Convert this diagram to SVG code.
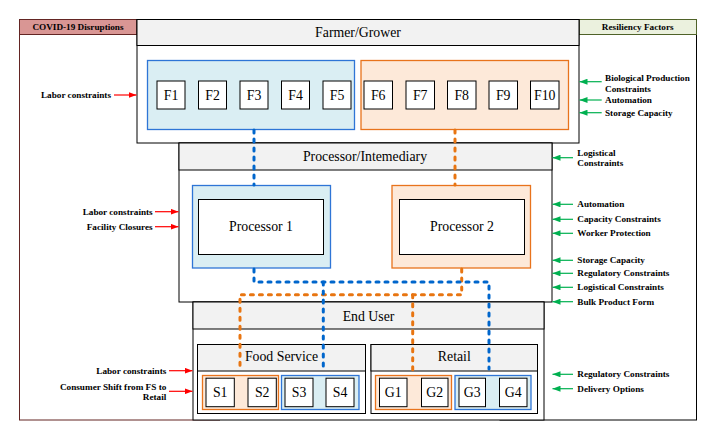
<svg xmlns="http://www.w3.org/2000/svg" width="719" height="439" viewBox="0 0 719 439">
<style>
  .box{fill:#FFFFFF;stroke:#000000;stroke-width:1}
  .hdr{fill:#F2F2F2;stroke:#000000;stroke-width:1}
  .bgrp{fill:#DAEEF3;stroke:#2E75D6;stroke-width:1.3}
  .ogrp{fill:#FDE9D9;stroke:#E8731C;stroke-width:1.3}
  .t{font-family:"Liberation Serif","Times New Roman",serif;font-size:13.8px;fill:#000000;text-anchor:middle}
  .lb{font-family:"Liberation Serif","Times New Roman",serif;font-size:9.2px;font-weight:bold;fill:#000000}
  .lr{text-anchor:end}
  .hd{text-anchor:middle}
  .red{stroke:#FF0000;stroke-width:1.2;fill:none;marker-end:url(#ar)}
  .grn{stroke:#00B050;stroke-width:1.2;fill:none;marker-end:url(#ag)}
  .cb{stroke:#0066CC;stroke-width:3;fill:none;stroke-linecap:round;stroke-linejoin:round;stroke-dasharray:3 6}
  .co{stroke:#E87511;stroke-width:3;fill:none;stroke-linecap:round;stroke-linejoin:round;stroke-dasharray:3 6}
</style>
<defs>
  <marker id="ar" markerUnits="userSpaceOnUse" markerWidth="9" markerHeight="6" refX="8" refY="3" orient="auto">
    <path d="M0,0 L8,3 L0,6 z" fill="#FF0000"/>
  </marker>
  <marker id="ag" markerUnits="userSpaceOnUse" markerWidth="9" markerHeight="6" refX="8" refY="3" orient="auto">
    <path d="M0,0 L8,3 L0,6 z" fill="#00B050"/>
  </marker>
</defs>
<rect width="719" height="439" fill="#FFFFFF"/>

<g id="covid-panel">
  <rect x="19.5" y="19.5" width="200" height="400.5" fill="#FFFFFF" stroke="#632523" stroke-width="1"/>
  <rect x="19.5" y="19.5" width="117.5" height="15" fill="#D99694" stroke="#632523" stroke-width="1"/>
  <text class="lb hd" x="78" y="29.8">COVID-19 Disruptions</text>
</g>

<g id="resiliency-panel">
  <rect x="500" y="19.5" width="196.5" height="400.5" fill="#FFFFFF" stroke="#000000" stroke-width="1"/>
  <rect x="579" y="19.5" width="117.5" height="15" fill="#EBF1DE" stroke="#4F6228" stroke-width="1"/>
  <text class="lb hd" x="637.7" y="29.8">Resiliency Factors</text>
</g>

<g id="farmer">
  <rect class="box" x="137" y="19.5" width="442" height="123.5"/>
  <rect class="hdr" x="137" y="19.5" width="442" height="26"/>
  <text class="t" x="358" y="37">Farmer/Grower</text>
  <g id="farmer-group-1">
    <rect class="bgrp" x="147.5" y="60.5" width="207" height="69"/>
    <g id="F1"><rect class="box" x="157" y="81" width="28" height="28"/><text class="t" x="171" y="99.6">F1</text></g>
    <g id="F2"><rect class="box" x="198.5" y="81" width="28" height="28"/><text class="t" x="212.5" y="99.6">F2</text></g>
    <g id="F3"><rect class="box" x="240" y="81" width="28" height="28"/><text class="t" x="254" y="99.6">F3</text></g>
    <g id="F4"><rect class="box" x="281.5" y="81" width="28" height="28"/><text class="t" x="295.5" y="99.6">F4</text></g>
    <g id="F5"><rect class="box" x="323" y="81" width="28" height="28"/><text class="t" x="337" y="99.6">F5</text></g>
  </g>
  <g id="farmer-group-2">
    <rect class="ogrp" x="361" y="60.5" width="207.5" height="69"/>
    <g id="F6"><rect class="box" x="364" y="81" width="28.5" height="28"/><text class="t" x="378.2" y="99.6">F6</text></g>
    <g id="F7"><rect class="box" x="406" y="81" width="28.5" height="28"/><text class="t" x="420.2" y="99.6">F7</text></g>
    <g id="F8"><rect class="box" x="447.5" y="81" width="28.5" height="28"/><text class="t" x="461.7" y="99.6">F8</text></g>
    <g id="F9"><rect class="box" x="489" y="81" width="28.5" height="28"/><text class="t" x="503.2" y="99.6">F9</text></g>
    <g id="F10"><rect class="box" x="530.5" y="81" width="28.5" height="28"/><text class="t" x="544.7" y="99.6">F10</text></g>
  </g>
</g>

<g id="processor">
  <rect class="box" x="179" y="143" width="373" height="159"/>
  <rect class="hdr" x="179" y="143" width="373" height="27"/>
  <text class="t" x="365" y="160.6">Processor/Intemediary</text>
  <g id="processor-1">
    <rect class="bgrp" x="192.5" y="185.5" width="138" height="82.5"/>
    <rect class="box" x="198.5" y="199.5" width="125" height="55"/>
    <text class="t" x="261" y="231.3">Processor 1</text>
  </g>
  <g id="processor-2">
    <rect class="ogrp" x="392" y="185.5" width="138.5" height="82.5"/>
    <rect class="box" x="399.5" y="199.5" width="125" height="55"/>
    <text class="t" x="462" y="231.3">Processor 2</text>
  </g>
</g>

<g id="end-user">
  <rect class="box" x="193" y="302" width="351" height="118"/>
  <rect class="hdr" x="193" y="302" width="351" height="27"/>
  <text class="t" x="368.5" y="320.6">End User</text>
  <g id="food-service">
    <rect class="box" x="197.5" y="344.5" width="168" height="69"/>
    <rect class="hdr" x="197.5" y="344.5" width="168" height="26.5"/>
    <text class="t" x="281.5" y="361.3">Food Service</text>
    <rect class="ogrp" x="202.5" y="375.5" width="76" height="34"/>
    <rect class="bgrp" x="281.5" y="375.5" width="77.5" height="34"/>
    <g id="S1"><rect class="box" x="206" y="378.2" width="28.3" height="28.5"/><text class="t" x="220.2" y="397">S1</text></g>
    <g id="S2"><rect class="box" x="248" y="378.2" width="28.3" height="28.5"/><text class="t" x="262.2" y="397">S2</text></g>
    <g id="S3"><rect class="box" x="285" y="378.2" width="28" height="28.5"/><text class="t" x="299" y="397">S3</text></g>
    <g id="S4"><rect class="box" x="326" y="378.2" width="28" height="28.5"/><text class="t" x="340" y="397">S4</text></g>
  </g>
  <g id="retail">
    <rect class="box" x="371" y="344.5" width="166.5" height="69"/>
    <rect class="hdr" x="371" y="344.5" width="166.5" height="26.5"/>
    <text class="t" x="454.3" y="361.3">Retail</text>
    <rect class="ogrp" x="375.5" y="375.5" width="76" height="34"/>
    <rect class="bgrp" x="455" y="375.5" width="76" height="34"/>
    <g id="G1"><rect class="box" x="379.5" y="378.2" width="27.5" height="28.5"/><text class="t" x="393.2" y="397">G1</text></g>
    <g id="G2"><rect class="box" x="421.5" y="378.2" width="26.5" height="28.5"/><text class="t" x="434.7" y="397">G2</text></g>
    <g id="G3"><rect class="box" x="459" y="378.2" width="26.5" height="28.5"/><text class="t" x="472.2" y="397">G3</text></g>
    <g id="G4"><rect class="box" x="499.5" y="378.2" width="27.5" height="28.5"/><text class="t" x="513.2" y="397">G4</text></g>
  </g>
</g>

<g id="connectors">
  <path class="co" d="M455,130 V185"/>
  <path class="co" d="M461.7,269 V294.7 H240 V370"/>
  <path class="co" d="M412.7,294.7 V370"/>
  <path class="cb" d="M254,130 V185"/>
  <path class="cb" d="M254,269 V282 H489 V369"/>
  <path class="cb" d="M323.3,282 V369"/>
</g>

<g id="disruption-labels">
  <text class="lb lr" x="111" y="98">Labor constraints</text>
  <line class="red" x1="114" y1="95" x2="136.5" y2="95"/>
  <text class="lb lr" x="152.7" y="214.7">Labor constraints</text>
  <line class="red" x1="155" y1="211.7" x2="178.5" y2="211.7"/>
  <text class="lb lr" x="152.7" y="229.7">Facility Closures</text>
  <line class="red" x1="155" y1="226.7" x2="178.5" y2="226.7"/>
  <text class="lb lr" x="166.3" y="373.7">Labor constraints</text>
  <line class="red" x1="169" y1="370.7" x2="192.5" y2="370.7"/>
  <text class="lb lr" x="166.3" y="389.7">Consumer Shift from FS to</text>
  <text class="lb lr" x="166.3" y="400.3">Retail</text>
  <line class="red" x1="169" y1="391.3" x2="192.5" y2="391.3"/>
</g>

<g id="resiliency-labels">
  <text class="lb" x="605" y="80.7">Biological Production</text>
  <text class="lb" x="605" y="91.7">Constraints</text>
  <line class="grn" x1="601.7" y1="81.7" x2="579.5" y2="81.7"/>
  <text class="lb" x="605" y="103.3">Automation</text>
  <line class="grn" x1="601.7" y1="100" x2="579.5" y2="100"/>
  <text class="lb" x="605" y="115.7">Storage Capacity</text>
  <line class="grn" x1="601.7" y1="112.7" x2="579.5" y2="112.7"/>

  <text class="lb" x="577.3" y="155.7">Logistical</text>
  <text class="lb" x="577.3" y="166.3">Constraints</text>
  <line class="grn" x1="573" y1="157.7" x2="552.5" y2="157.7"/>
  <text class="lb" x="577.3" y="207.3">Automation</text>
  <line class="grn" x1="573" y1="204.3" x2="552.5" y2="204.3"/>
  <text class="lb" x="577.3" y="222.3">Capacity Constraints</text>
  <line class="grn" x1="573" y1="219.3" x2="552.5" y2="219.3"/>
  <text class="lb" x="577.3" y="236.3">Worker Protection</text>
  <line class="grn" x1="573" y1="233.3" x2="552.5" y2="233.3"/>
  <text class="lb" x="577.3" y="263.3">Storage Capacity</text>
  <line class="grn" x1="573" y1="260.3" x2="552.5" y2="260.3"/>
  <text class="lb" x="577.3" y="276.3">Regulatory Constraints</text>
  <line class="grn" x1="573" y1="273.3" x2="552.5" y2="273.3"/>
  <text class="lb" x="577.3" y="290.3">Logistical Constraints</text>
  <line class="grn" x1="573" y1="287.3" x2="552.5" y2="287.3"/>
  <text class="lb" x="577.3" y="304.7">Bulk Product Form</text>
  <line class="grn" x1="573" y1="301.7" x2="552.5" y2="301.7"/>

  <text class="lb" x="577.3" y="377.3">Regulatory Constraints</text>
  <line class="grn" x1="573" y1="374.3" x2="552.5" y2="374.3"/>
  <text class="lb" x="577.3" y="391.7">Delivery Options</text>
  <line class="grn" x1="573" y1="388.7" x2="552.5" y2="388.7"/>
</g>
</svg>
